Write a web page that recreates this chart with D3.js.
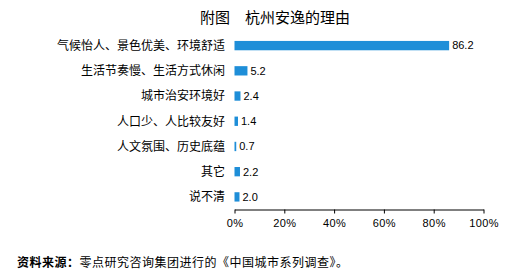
<!DOCTYPE html>
<html><head><meta charset="utf-8">
<script src="https://cdn.jsdelivr.net/npm/d3@7"></script>
<style>body{margin:0;background:#fff}text{fill:#000}</style>
</head><body>
<svg id="c" width="513" height="280"></svg>
<script>
const categories = ["气候怡人、景色优美、环境舒适","生活节奏慢、生活方式休闲","城市治安环境好","人口少、人比较友好","人文氛围、历史底蕴","其它","说不清"];
const values = [86.2, 5.2, 2.4, 1.4, 0.7, 2.2, 2.0];
const tickValues = [0, 20, 40, 60, 80, 100];
const title = "附图　杭州安逸的理由";
const sourceBold = "资料来源：";
const sourceText = "零点研究咨询集团进行的《中国城市系列调查》。";

const svg = d3.select("#c");
const cjk = "'Noto Sans CJK SC','Noto Sans',sans-serif";
const x = d3.scaleLinear().domain([0,100]).range([234.5,483.5]);
const y = d3.scaleBand().domain(categories).range([33,209.5]).paddingInner(0.63).paddingOuter(0.315);

svg.append("text").attr("x",275).attr("y",23).attr("text-anchor","middle")
  .style("font-family",cjk).style("font-size","15px").text(title);

svg.selectAll("rect.bar").data(values).join("rect").attr("class","bar")
  .attr("x",x(0)).attr("y",(d,i)=>y(categories[i]))
  .attr("width",d=>x(d)-x(0)).attr("height",y.bandwidth()).attr("fill","#1e8ed8");

svg.selectAll("text.val").data(values).join("text").attr("class","val")
  .attr("x",d=>x(d)+3).attr("y",(d,i)=>y(categories[i])+y.bandwidth()/2).attr("dy","0.35em")
  .style("font-family","'Liberation Sans',Arial,sans-serif").style("font-size","11px")
  .text(d=>d.toFixed(1));

svg.selectAll("text.cat").data(categories).join("text").attr("class","cat")
  .attr("x",225).attr("y",d=>y(d)+y.bandwidth()/2).attr("dy","0.36em").attr("text-anchor","end")
  .style("font-family",cjk).style("font-size","12px").text(d=>d);

const ax = svg.append("g").attr("transform","translate(0,209.5)")
  .call(d3.axisBottom(x).tickValues(tickValues).tickSize(4).tickSizeOuter(0).tickPadding(6).tickFormat(d=>d+"%"));
ax.select(".domain").attr("stroke","#000");
ax.selectAll(".tick line").attr("stroke","#000");
ax.selectAll("text").style("font-family","'Liberation Sans',Arial,sans-serif").style("font-size","11px").style("letter-spacing","0.4px");

const src = svg.append("text").attr("x",17).attr("y",267)
  .style("font-family",cjk).style("font-size","12px").style("letter-spacing","0.5px");
src.append("tspan").style("font-weight","bold").text(sourceBold);
src.append("tspan").text(sourceText);
</script>
</body></html>
